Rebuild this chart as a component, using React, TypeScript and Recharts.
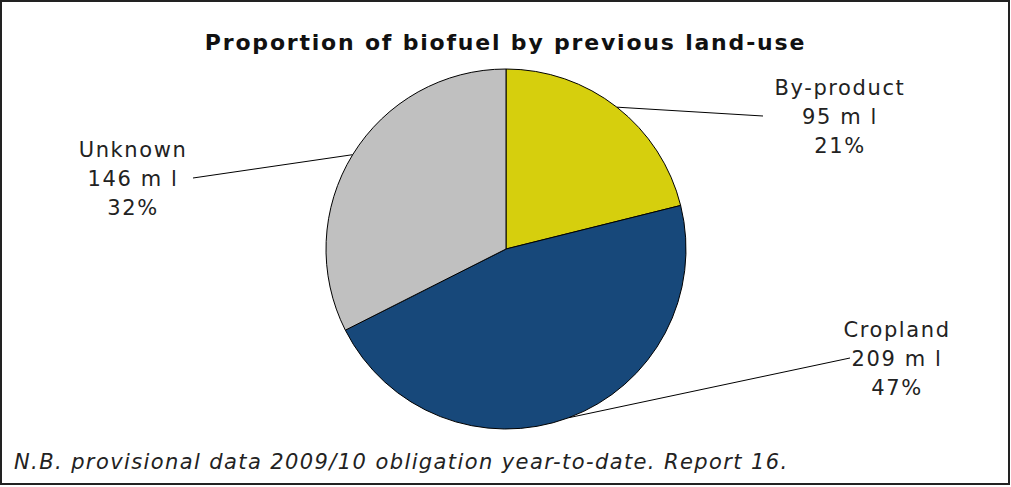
import React from 'react';
import { PieChart, Pie, Cell } from 'recharts';

const CATEGORIES = ['By-product', 'Cropland', 'Unknown'];
const VOLUMES = [95, 209, 146]; // million litres
const SHARES = [21, 47, 32]; // % as printed in the report

const COLORS = ['#d6cf0d', '#17487a', '#c0c0c0'];

// where each callout sits, relative to the pie centre
const CALLOUTS: Record<string, { ex: number; ey: number; tx: number }> = {
  'By-product': { ex: 257, ey: -133, tx: 334 },
  Cropland: { ex: 344, ey: 109, tx: 391 },
  Unknown: { ex: -313, ey: -71, tx: -373 },
};

const data = CATEGORIES.map((name, i) => ({
  name,
  value: VOLUMES[i],
  share: SHARES[i],
}));

const RADIAN = Math.PI / 180;
const LABEL_FONT = { fontFamily: 'DejaVu Sans', fontSize: 21, letterSpacing: 1.6 };

const renderLabel = (props: any) => {
  const { cx, cy, midAngle, outerRadius, name, value, payload } = props;
  const c = CALLOUTS[name];
  const sx = cx + outerRadius * Math.cos(-midAngle * RADIAN);
  const sy = cy + outerRadius * Math.sin(-midAngle * RADIAN);
  const ex = cx + c.ex;
  const ey = cy + c.ey;
  const tx = cx + c.tx;
  const ty = cy + c.ey;
  return (
    <g>
      <line x1={sx} y1={sy} x2={ex} y2={ey} stroke="#000" strokeWidth={1} />
      <text textAnchor="middle" fill="#222" style={LABEL_FONT}>
        <tspan x={tx} y={ty - 21}>{name}</tspan>
        <tspan x={tx} y={ty + 8}>{`${value} m l`}</tspan>
        <tspan x={tx} y={ty + 37}>{`${payload.share}%`}</tspan>
      </text>
    </g>
  );
};

export default function App() {
  return (
    <div
      style={{
        position: 'absolute',
        left: 0,
        top: 0,
        width: 1011,
        height: 487,
        background: '#fff',
      }}
    >
      <div
        style={{
          position: 'absolute',
          left: 0,
          top: 0,
          width: 1006,
          height: 481,
          border: '2px solid #222',
        }}
      />
      <div
        style={{
          position: 'absolute',
          left: 0,
          top: 30,
          width: 1011,
          textAlign: 'center',
          fontFamily: 'DejaVu Sans',
          fontWeight: 'bold',
          fontSize: 22,
          letterSpacing: 1.8,
          color: '#111',
        }}
      >
        Proportion of biofuel by previous land-use
      </div>
      <div
        style={{
          position: 'absolute',
          left: 14,
          top: 450,
          fontFamily: 'DejaVu Sans',
          fontStyle: 'italic',
          fontSize: 21,
          letterSpacing: 1.4,
          color: '#222',
        }}
      >
        N.B. provisional data 2009/10 obligation year-to-date. Report 16.
      </div>
      <div style={{ position: 'absolute', left: 0, top: 0 }}>
        <PieChart width={1011} height={487} margin={{ top: 0, right: 0, bottom: 0, left: 0 }}>
          <Pie
            data={data}
            dataKey="value"
            nameKey="name"
            cx={506}
            cy={249}
            outerRadius={180}
            startAngle={90}
            endAngle={-270}
            stroke="#000"
            strokeWidth={1}
            label={renderLabel}
            labelLine={false}
            isAnimationActive={false}
          >
            {data.map((d, i) => (
              <Cell key={d.name} fill={COLORS[i]} />
            ))}
          </Pie>
        </PieChart>
      </div>
    </div>
  );
}
